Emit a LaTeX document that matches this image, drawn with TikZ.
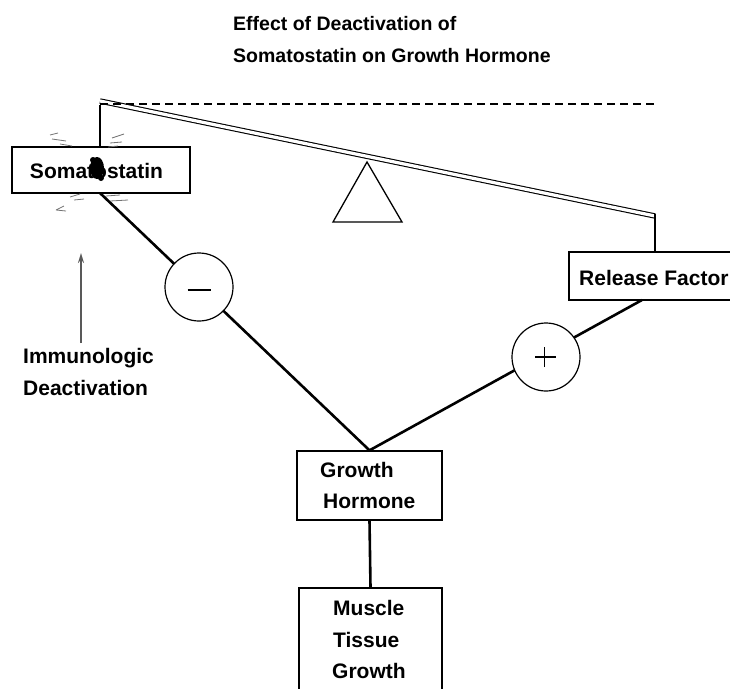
\documentclass[tikz,border=0pt]{standalone}
\usepackage{fontspec}
\setmainfont{Liberation Sans}
\usetikzlibrary{arrows.meta}
\begin{document}
\begin{tikzpicture}[x=1pt,y=-1pt,
  lbl/.style={font=\bfseries\fontsize{21}{32}\selectfont, inner sep=0pt, anchor=base west},
  ttl/.style={font=\bfseries\fontsize{19.5}{32}\selectfont, inner sep=0pt, anchor=base west},
  box/.style={draw, line width=1.3pt, inner sep=0pt},
  conn/.style={line width=2.6pt},
  sign/.style={draw, circle, fill=white, line width=1.2pt, minimum size=68pt, inner sep=0pt},
  smudge/.style={black!55, line width=0.8pt}]
\useasboundingbox (0,0) rectangle (730,688);
\clip (0,0) rectangle (730,688);
% title
\node[ttl] (t1) at (233,30) {Effect of Deactivation of};
\node[ttl] (t2) at (233,62) {Somatostatin on Growth Hormone};
% boxes
\node[box, minimum width=178pt, minimum height=46pt] (soma) at (101,170) {};
\node[box, minimum width=166pt, minimum height=48pt] (rf) at (652,276) {};
\node[box, minimum width=145pt, minimum height=69pt] (gh) at (369.5,485.5) {};
\node[box, minimum width=143pt, minimum height=110pt] (mt) at (370.5,643) {};
% texts
\node[lbl, anchor=base] (somatxt) at (96.5,178) {Somatostatin};
\node[lbl] (rftxt) at (579,285) {Release Factor};
\node[lbl] (gh1) at (320,477) {Growth};
\node[lbl] (gh2) at (323,508) {Hormone};
\node[lbl] (mt1) at (333,615) {Muscle};
\node[lbl] (mt2) at (333,647) {Tissue};
\node[lbl] (mt3) at (332,678) {Growth};
\node[lbl] (im1) at (23,363) {Immunologic};
\node[lbl] (im2) at (23,395) {Deactivation};
% coordinates
\coordinate (beamL) at (100,104);
\coordinate (dashR) at (655,104);
\coordinate (beamR) at (655,216);
\coordinate (somaB) at (100,193);
\coordinate (rfB) at (642,300);
\coordinate (arrS) at (81,343);
\coordinate (arrE) at (81,253);
% lever
\draw[double, double distance=3.2pt, line width=1.1pt] ([yshift=3pt]beamL) -- (beamR);
\draw[dashed, dash pattern=on 8pt off 5pt, line width=1.5pt] (beamL) -- (dashR);
\draw[line width=2.4pt] (soma.north -| beamL) -- ([yshift=-1pt]beamL);
\draw[line width=2.4pt] ([yshift=2pt]beamR) -- (rf.north -| beamR);
\draw[line width=1.3pt] (367,162) -- (333,222) -- (402,222) -- cycle;
% connectors
\draw[conn] (somaB) -- (gh.north);
\draw[conn] (gh.north) -- (rfB);
\draw[conn] (gh.south) -- (mt.north);
\node[sign] (minus) at (199,287) {};
\node[sign] (plus) at (546,357) {};
\draw[line width=2pt] ([xshift=-11.5pt,yshift=-3pt]minus.center) -- ([xshift=11.5pt,yshift=-3pt]minus.center);
\draw[line width=1.4pt] ([xshift=-11pt]plus.center) -- ([xshift=10pt]plus.center);
\draw[line width=1.4pt] ([xshift=-1.5pt,yshift=-10pt]plus.center) -- ([xshift=-1.5pt,yshift=10pt]plus.center);
% arrow
\draw[line width=1.7pt, black!65, -{Stealth[length=10pt,width=6pt]}] (arrS) -- (arrE);
% smudge
\fill[black] (97,168) ellipse [x radius=7pt, y radius=11pt];
\fill[black] (93,160) circle (3pt);
\fill[black] (101,178) circle (3pt);
\draw[smudge] (50,135) -- (58,133) (52,139) -- (66,141) (60,144) -- (72,146);
\draw[smudge] (112,138) -- (124,134) (110,143) -- (122,142) (108,147) -- (118,146);
\draw[smudge] (70,197) -- (80,194) (74,200) -- (84,199);
\draw[smudge] (106,196) -- (120,195) (110,201) -- (128,200);
\draw[smudge] (56,210) -- (64,206) (56,210) -- (66,211);
\end{tikzpicture}
\end{document}
